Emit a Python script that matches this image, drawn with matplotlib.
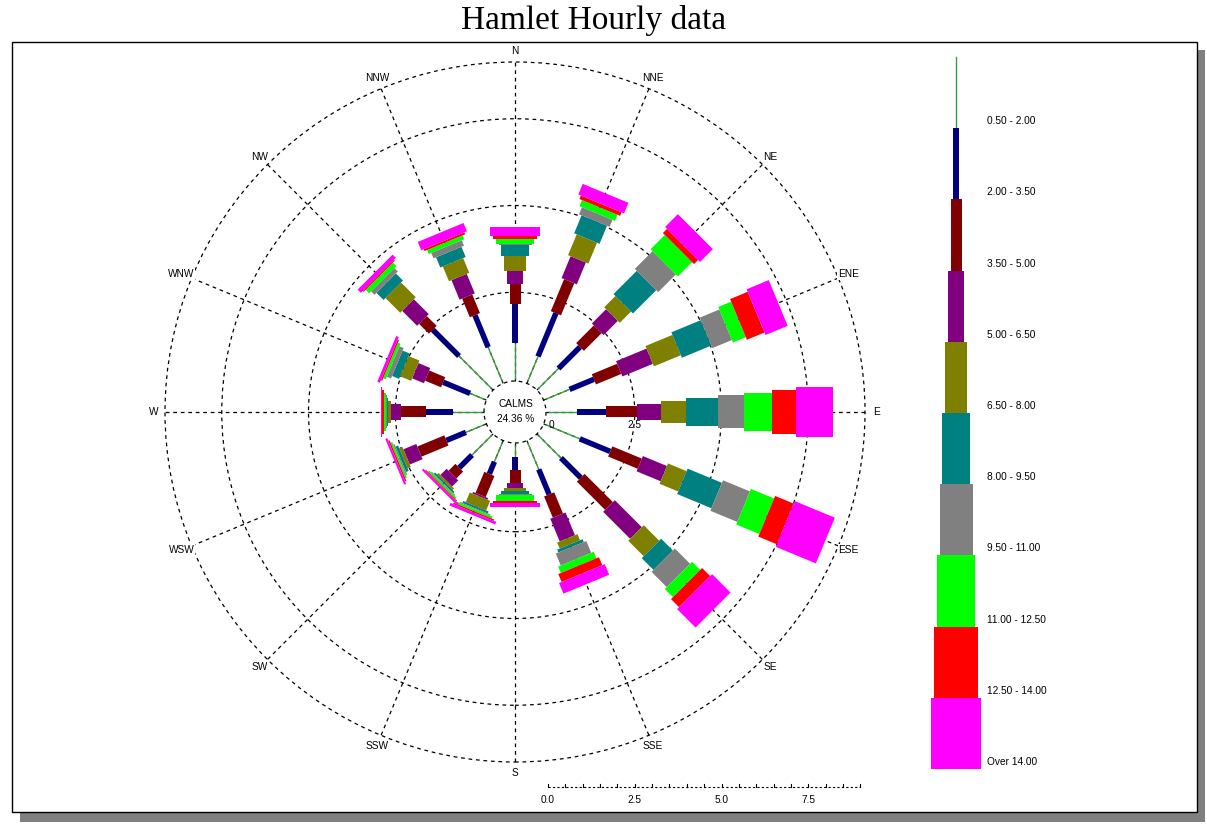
import numpy as np
import matplotlib
matplotlib.use('Agg')
import matplotlib.pyplot as plt
from matplotlib.patches import Polygon, Circle, Rectangle

# ---------------- data ----------------
title = "Hamlet Hourly data"
directions = ['N', 'NNE', 'NE', 'ENE', 'E', 'ESE', 'SE', 'SSE',
              'S', 'SSW', 'SW', 'WSW', 'W', 'WNW', 'NW', 'NNW']
class_labels = ['0.50 - 2.00', '2.00 - 3.50', '3.50 - 5.00', '5.00 - 6.50',
                '6.50 - 8.00', '8.00 - 9.50', '9.50 - 11.00', '11.00 - 12.50',
                '12.50 - 14.00', 'Over 14.00']
calm_pct = 24.36
ring_values = [2.5, 5.0, 7.5]
scale_labels = ['0.0', '2.5', '5.0', '7.5']
scale_values = [0.0, 2.5, 5.0, 7.5]

# frequency (%) per direction, one list per speed class (order of `directions`)
spd_050_200 = [1.03, 0.78, 0.82, 0.75, 0.84, 1.07, 0.92, 0.84, 0.34, 0.60, 0.80, 0.58, 0.83, 0.45, 1.33, 1.07]
spd_200_350 = [1.13, 1.35, 0.88, 0.76, 0.84, 0.95, 0.81, 0.78, 0.38, 0.38, 0.52, 0.61, 0.79, 0.84, 1.07, 1.00]
spd_350_500 = [0.58, 1.00, 0.72, 0.79, 0.89, 0.92, 1.15, 0.66, 0.38, 0.66, 0.28, 0.84, 0.70, 0.50, 0.40, 0.58]
spd_500_650 = [0.38, 0.68, 0.58, 0.95, 0.69, 0.75, 1.10, 0.71, 0.14, 0.05, 0.25, 0.40, 0.29, 0.37, 0.61, 0.61]
spd_650_800 = [0.42, 0.65, 0.46, 0.84, 0.72, 0.58, 0.63, 0.19, 0.10, 0.30, 0.06, 0.10, 0.10, 0.34, 0.60, 0.46]
spd_800_950 = [0.31, 0.56, 0.95, 0.92, 0.92, 1.07, 0.48, 0.09, 0.07, 0.06, 0.05, 0.08, 0.04, 0.22, 0.29, 0.32]
spd_950_1100 = [0.03, 0.22, 0.72, 0.61, 0.75, 0.84, 0.62, 0.37, 0.03, 0.03, 0.03, 0.04, 0.03, 0.13, 0.14, 0.17]
spd_1100_1250 = [0.15, 0.19, 0.58, 0.40, 0.81, 0.72, 0.33, 0.20, 0.17, 0.06, 0.05, 0.05, 0.03, 0.08, 0.14, 0.12]
spd_1250_1400 = [0.10, 0.11, 0.17, 0.55, 0.69, 0.58, 0.33, 0.25, 0.05, 0.04, 0.03, 0.04, 0.06, 0.04, 0.04, 0.06]
spd_over_1400 = [0.24, 0.33, 0.52, 0.69, 1.07, 1.25, 0.75, 0.33, 0.12, 0.08, 0.06, 0.06, 0.03, 0.08, 0.13, 0.26]

series = [spd_050_200, spd_200_350, spd_350_500, spd_500_650, spd_650_800,
          spd_800_950, spd_950_1100, spd_1100_1250, spd_1250_1400, spd_over_1400]

# ---------------- style ----------------
colors = ['#3c9c3c', '#000080', '#800000', '#800080', '#808000',
          '#008080', '#808080', '#00ff00', '#ff0000', '#ff00ff']
SANS = ['Liberation Sans', 'DejaVu Sans']
SERIF = ['Liberation Serif', 'DejaVu Serif']
FS = 7.3

W, H = 1207, 827
S = 34.7            # pixels per percent
CX, CY = 515, 412   # rose centre in pixels (from top-left)
R0 = 33 / S         # radial offset (calm circle)
R_CALM = 31 / S
R_OUT = 350 / S
R_LAB = 361 / S
BAR_W = 5.5 / S     # width increment per class, data units

fig = plt.figure(figsize=(W / 100, H / 100), dpi=100)

# background axes in pixel coordinates
bg = fig.add_axes([0, 0, 1, 1])
bg.set_xlim(0, W)
bg.set_ylim(H, 0)
bg.axis('off')
bg.add_patch(Rectangle((20, 50), 1185, 772, facecolor='#808080', edgecolor='none', zorder=0))
bg.add_patch(Rectangle((12, 42), 1185, 770, facecolor='white', edgecolor='black', lw=1.0, zorder=1))
bg.text(594, 21, title, ha='center', va='center', fontsize=24, family=SERIF, zorder=3)

# legend column
lx = 956
ly0 = 57
lstep = 71.2
for k, lab in enumerate(class_labels):
    y0 = ly0 + k * lstep
    if k == 0:
        bg.plot([lx, lx], [y0, y0 + lstep], color=colors[0], lw=1.0, zorder=3)
    else:
        w = 5.5 * k
        bg.add_patch(Rectangle((lx - w / 2, y0), w, lstep, facecolor=colors[k],
                               edgecolor='none', zorder=3))
    bg.text(987, y0 + lstep - 7, lab, ha='left', va='center', fontsize=FS,
            family=SANS, zorder=3)

# rose axes in percent units
ax = fig.add_axes([0, 0, 1, 1])
ax.set_xlim(-CX / S, (W - CX) / S)
ax.set_ylim(-(H - CY) / S, CY / S)
ax.axis('off')
ax.patch.set_alpha(0)

dash = dict(color='black', lw=0.9, ls=(0, (3, 3)))
for rv in ring_values:
    ax.add_patch(Circle((0, 0), R0 + rv, fill=False, zorder=1, **dash))
ax.add_patch(Circle((0, 0), R_OUT, fill=False, zorder=1, **dash))
ax.add_patch(Circle((0, 0), R_CALM, fill=False, zorder=1, **dash))

angles = np.deg2rad(np.arange(len(directions)) * 22.5)
for th, name in zip(angles, directions):
    u = np.array([np.sin(th), np.cos(th)])
    ax.plot([R_CALM * u[0], R_OUT * u[0]], [R_CALM * u[1], R_OUT * u[1]], zorder=1, **dash)
    ax.text(R_LAB * u[0], R_LAB * u[1], name, ha='center', va='center', fontsize=FS,
            family=SANS, zorder=5,
            bbox=dict(facecolor='white', edgecolor='none', pad=0.6))

# bars
data = np.array(series)  # (classes, directions)
for j, th in enumerate(angles):
    u = np.array([np.sin(th), np.cos(th)])
    n = np.array([np.cos(th), -np.sin(th)])
    r = R0
    for k in range(data.shape[0]):
        v = data[k, j]
        r2 = r + v
        if k == 0:
            ax.plot([r * u[0], r2 * u[0]], [r * u[1], r2 * u[1]], color=colors[0],
                    lw=1.0, zorder=3, solid_capstyle='butt')
        else:
            hw = BAR_W * k / 2
            pts = np.array([r * u + hw * n, r2 * u + hw * n, r2 * u - hw * n, r * u - hw * n])
            ax.add_patch(Polygon(pts, closed=True, facecolor=colors[k], edgecolor='none',
                                 zorder=3 + k * 0.01))
        r = r2

# calms text
ax.text(0.03, 8 / S, 'CALMS', ha='center', va='center', fontsize=FS, family=SANS, zorder=6)
ax.text(0.03, -7 / S, f'{calm_pct:.2f} %', ha='center', va='center', fontsize=FS,
        family=SANS, zorder=6)

# radial scale labels on the E axis
for val, lab in zip([0.0, 2.5], ['0', '2.5']):
    ax.text(R0 + val + (0.1 if val == 0 else 0), -13 / S, lab, ha='center', va='center',
            fontsize=FS, family=SANS, zorder=6)

# scale bar at the bottom
ys = -(787 - CY) / S
ax.plot([R0, R0 + 9.0], [ys, ys], color='black', lw=0.8, ls=(0, (2, 2)), zorder=2)
for t in np.arange(0, 9.01, 0.5):
    ax.plot([R0 + t, R0 + t], [ys, ys + 3 / S], color='black', lw=0.8, zorder=2)
for val, lab in zip(scale_values, scale_labels):
    ax.text(R0 + val, ys - 13 / S, lab, ha='center', va='center', fontsize=FS,
            family=SANS, zorder=6)

fig.savefig('out.png', dpi=100)
